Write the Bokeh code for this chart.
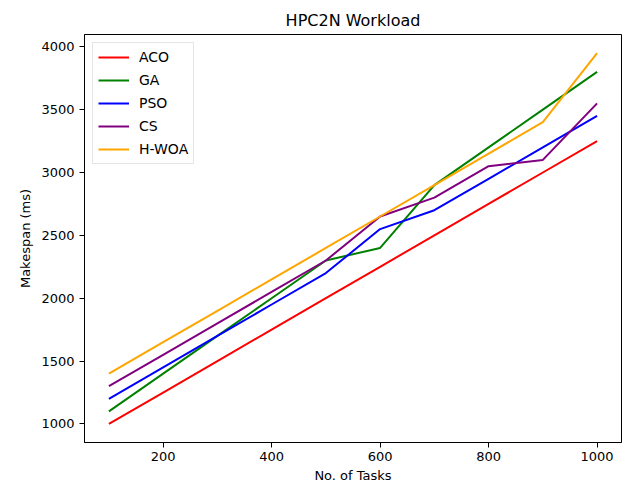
from bokeh.plotting import figure
from bokeh.models import Range1d, FixedTicker, Legend, LegendItem
from bokeh.embed import file_html
from bokeh.resources import INLINE

tasks = [100, 200, 300, 400, 500, 600, 700, 800, 900, 1000]
aco = [1000, 1250, 1500, 1750, 2000, 2250, 2500, 2750, 3000, 3250]
ga = [1100, 1400, 1700, 2000, 2300, 2400, 2900, 3200, 3500, 3800]
pso = [1200, 1450, 1700, 1950, 2200, 2550, 2700, 2950, 3200, 3450]
cs = [1300, 1550, 1800, 2050, 2300, 2650, 2800, 3050, 3100, 3550]
hwoa = [1400, 1650, 1900, 2150, 2400, 2650, 2900, 3150, 3400, 3950]

series = [("ACO", aco, "red"), ("GA", ga, "green"), ("PSO", pso, "blue"),
          ("CS", cs, "purple"), ("H-WOA", hwoa, "orange")]
x_ticks = [200, 400, 600, 800, 1000]
y_ticks = [1000, 1500, 2000, 2500, 3000, 3500, 4000]

p = figure(width=622, height=485, output_backend="svg", toolbar_location=None,
           x_range=Range1d(55, 1045), y_range=Range1d(852.5, 4097.5),
           min_border_left=84, min_border_right=1, min_border_top=34, min_border_bottom=42)

p.title.text = "HPC2N Workload"
p.title.align = "center"
p.title.text_font = "DejaVu Sans"
p.title.text_font_size = "16px"
p.title.text_font_style = "normal"
p.title.text_color = "black"

items = []
for name, vals, col in series:
    r = p.line(tasks, vals, line_color=col, line_width=2)
    items.append(LegendItem(label=name, renderers=[r]))

legend = Legend(items=items, location="top_left")
legend.label_text_font = "DejaVu Sans"
legend.label_text_font_size = "14px"
legend.label_text_color = "black"
legend.glyph_width = 31
legend.glyph_height = 18
legend.label_height = 16
legend.label_standoff = 10
legend.spacing = 5
legend.padding = 5
legend.margin = 8
legend.border_line_color = "#cccccc"
legend.border_line_width = 1
legend.background_fill_alpha = 0.8
p.add_layout(legend)

p.xgrid.visible = False
p.ygrid.visible = False
p.outline_line_color = "black"
p.outline_line_width = 1
p.outline_line_alpha = 1

p.xaxis.ticker = FixedTicker(ticks=x_ticks)
p.yaxis.ticker = FixedTicker(ticks=y_ticks)
for ax in [p.xaxis[0], p.yaxis[0]]:
    ax.major_label_text_font = "DejaVu Sans"
    ax.major_label_text_font_size = "13px"
    ax.major_label_text_color = "black"
    ax.axis_label_text_font = "DejaVu Sans"
    ax.axis_label_text_font_size = "13px"
    ax.axis_label_text_font_style = "normal"
    ax.axis_label_text_color = "black"
    ax.minor_tick_line_color = None
    ax.major_tick_in = 0
    ax.major_tick_out = 5
    ax.major_tick_line_color = "black"
    ax.axis_line_color = "black"
p.xaxis.axis_label = "No. of Tasks"
p.yaxis.axis_label = "Makespan (ms)"
p.xaxis.axis_label_standoff = 4
p.xaxis.major_label_standoff = 4

open("out.html", "w").write(file_html(p, INLINE))
